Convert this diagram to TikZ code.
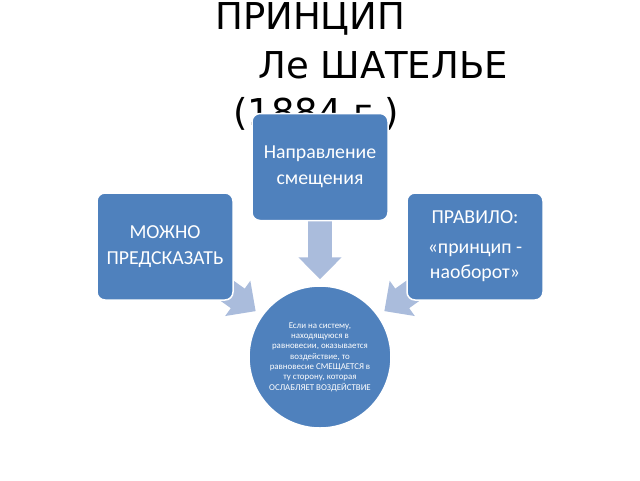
\documentclass[tikz,border=0pt]{standalone}
\usepackage{fontspec}
\setmainfont{Carlito}
\newfontfamily\titlefont{DejaVu Sans}
\usetikzlibrary{arrows.meta}
\usetikzlibrary{backgrounds}
\definecolor{boxblue}{RGB}{79,129,189}
\definecolor{arrowblue}{RGB}{170,188,220}
\tikzset{
    bluebox/.style={draw=white, line width=1.5pt, fill=boxblue, rounded corners=8pt,
        minimum width=136pt, minimum height=107pt, align=center, text=white,
        font=\fontsize{19.8}{25.5}\selectfont},
    bluecircle/.style={circle, draw=white, line width=1.5pt, fill=boxblue,
        minimum size=142pt, align=center, text=white,
        font=\fontsize{8.9}{10.3}\selectfont},
    blockarrow/.style={draw=arrowblue, line width=24pt,
        -{Triangle[width=42pt,length=22pt,fill=arrowblue]}},
    titleline/.style={anchor=base west, inner sep=0pt, font=\titlefont\fontsize{37}{44}\selectfont}
}

\begin{document}
\begin{tikzpicture}[x=1pt,y=-1pt]
        \useasboundingbox (0,0) rectangle (640,480);
        % title
        \node[titleline] (titleA) at (215,29) {ПРИНЦИП};
        \node[titleline] (titleB) at (258,78) {Ле ШАТЕЛЬЕ};
        \node[titleline] (titleC) at (233,125) {(1884 г.)};
        % boxes
        \node[bluebox] (shift) at (320,167) {Направление\\смещения};
        \node[bluebox] (predict) at (165,246.5) {МОЖНО\\ПРЕДСКАЗАТЬ};
        \node[bluebox] (rule) at (475,246.5) {ПРАВИЛО:\\[4pt]«принцип -\\наоборот»};
        \node[bluecircle] (law) at (320,357) {Если на систему,\\находящуюся в\\равновесии, оказывается\\воздействие, то\\равновесие СМЕЩАЕТСЯ в\\ту сторону, которая\\ОСЛАБЛЯЕТ ВОЗДЕЙСТВИЕ};
        % arrows
        \begin{scope}[on background layer]
        \draw[blockarrow, shorten >=6pt] (shift.south) -- (law.north);
        \draw[blockarrow, shorten <=62pt, shorten >=79pt] (predict.center) -- (law.center);
        \draw[blockarrow, shorten <=62pt, shorten >=79pt] (rule.center) -- (law.center);
        \end{scope}
    \end{tikzpicture}
\end{document}
